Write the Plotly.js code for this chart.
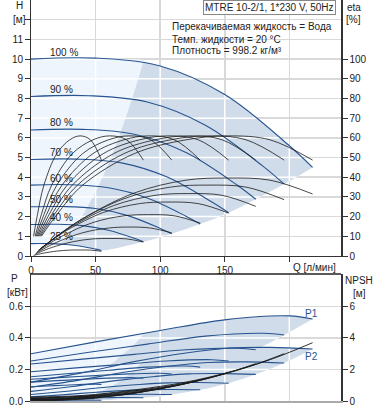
<!DOCTYPE html>
<html><head><meta charset="utf-8">
<script src="https://cdn.plot.ly/plotly-3.0.1.min.js"></script>
<style>html,body{margin:0;padding:0;background:#fff;}#chart{width:378px;height:410px;}</style>
</head><body><div id="chart"></div>
<script>
const speedLabels = ['100 %','90 %','80 %','70 %','60 %','50 %','40 %','25 %'];

// Q grid A (QH and P1 curves), per speed
const qA100=[0,50,100,150,200,218];
const qA90=[0,45,90,135,180,196];
const qA80=[0,40,80,120,160,174];
const qA70=[0,35,70,105,140,153];
const qA60=[0,30,60,90,120,131];
const qA50=[0,25,50,75,100,109];
const qA40=[0,20,40,60,80,87];
const qA25=[0,12.5,25,37.5,50,54.5];

// Head H [m]
const h100=[10,10.05,9.65,8.2,5.6,4.5];
const h90=[8.1,8.14,7.82,6.64,4.54,3.65];
const h80=[6.4,6.43,6.18,5.25,3.58,2.88];
const h70=[4.9,4.92,4.73,4.02,2.74,2.2];
const h60=[3.6,3.62,3.47,2.95,2.02,1.62];
const h50=[2.5,2.51,2.41,2.05,1.4,1.13];
const h40=[1.6,1.61,1.54,1.31,0.9,0.72];
const h25=[0.63,0.63,0.6,0.51,0.35,0.28];

// Power P1 [kW]
const p1_100=[0.30,0.375,0.447,0.515,0.54,0.52];
const p1_90=[0.254,0.309,0.361,0.412,0.43,0.419];
const p1_80=[0.235,0.266,0.296,0.325,0.335,0.325];
const p1_70=[0.186,0.21,0.232,0.254,0.262,0.254];
const p1_60=[0.154,0.175,0.195,0.215,0.222,0.215];
const p1_50=[0.138,0.15,0.161,0.172,0.176,0.171];
const p1_40=[0.12,0.129,0.137,0.145,0.148,0.144];
const p1_25=[0.09,0.095,0.1,0.105,0.107,0.105];

// Q grid B (efficiency curves)
const qB100=[8,20,40,80,120,152,185,218];
const qB90=[7.2,18,36,72,108,137,166.5,196];
const qB80=[6.4,16,32,64,96,122,148,174];
const qB70=[5.6,14,28,56,84,106,129.5,153];
const qB60=[4.8,12,24,48,72,91,111,131];
const qB50=[4,10,20,40,60,76,92.5,109];
const qB40=[3.2,8,16,32,48,61,74,87];
const qB25=[2,5,10,20,30,38,46,54.5];

// pump efficiency [%] (same reading at every speed)
const etaPump=[10,21,36,52,59,61,59,48.7];
// total efficiency [%]
const etaT100=[4,10,19,32,38.5,39.6,38.5,31.5];
const etaT90=[3.6,9.1,17.3,29.1,35,36,35,28.6];
const etaT80=[3.2,8,15.2,25.6,30.8,31.7,30.8,25.2];
const etaT70=[2.8,6.9,13.1,22.1,26.6,27.4,26.6,21.8];
const etaT60=[2.1,5.3,10.1,17,20.4,21,20.4,16.7];
const etaT50=[1.5,3.7,7,11.8,14.2,14.7,14.2,11.7];
const etaT40=[0.9,2.3,4.3,7.2,8.7,8.9,8.7,7.1];
const etaT25=[0.3,0.8,1.5,2.5,3,3.05,3,2.4];

// Q grid C (P2 and NPSH)
const qC100=[0,40,80,120,152,185,218];
const qC90=[0,36,72,108,137,166.5,196];
const qC80=[0,32,64,96,122,148,174];
const qC70=[0,28,56,84,106,129.5,153];
const qC60=[0,24,48,72,91,111,131];
const qC50=[0,20,40,60,76,92.5,109];
const qC40=[0,16,32,48,61,74,87];
const qC25=[0,10,20,30,38,46,54.5];

// Power P2 [kW]
const p2_100=[0.12,0.18,0.25,0.305,0.335,0.34,0.33];
const p2_90=[0.087,0.131,0.182,0.222,0.244,0.248,0.241];
const p2_80=[0.061,0.092,0.128,0.156,0.172,0.174,0.169];
const p2_70=[0.041,0.062,0.086,0.105,0.115,0.117,0.113];
const p2_60=[0.026,0.039,0.054,0.066,0.072,0.073,0.071];
const p2_50=[0.015,0.0225,0.031,0.038,0.042,0.0425,0.041];
const p2_40=[0.008,0.0115,0.016,0.0195,0.0214,0.0218,0.021];
const p2_25=[0.002,0.0028,0.0039,0.0048,0.0052,0.0053,0.0052];

// NPSH [m]
const npsh100=[0.25,0.35,0.7,1.2,1.8,2.62,3.7];
const npsh90=[0.2,0.28,0.57,0.97,1.46,2.12,3.0];
const npsh80=[0.16,0.22,0.45,0.77,1.15,1.68,2.37];
const npsh70=[0.12,0.17,0.34,0.59,0.88,1.28,1.81];
const npsh60=[0.09,0.13,0.25,0.43,0.65,0.94,1.33];
const npsh50=[0.06,0.09,0.18,0.3,0.45,0.66,0.93];
const npsh40=[0.04,0.056,0.11,0.19,0.29,0.42,0.59];
const npsh25=[0.016,0.022,0.044,0.075,0.11,0.16,0.23];

// light / dark area boundary (one point per speed, 25% .. 100%)
const bndQ=[21.9,35,43.7,52.4,61.2,69.9,78.7,87.4];
const bndH=[0.62,1.6,2.49,3.58,4.88,6.37,8.07,9.95];
const bndP1=[0.099,0.135,0.158,0.19,0.227,0.288,0.348,0.429];
const bndP2=[0.004,0.0166,0.0325,0.056,0.089,0.133,0.19,0.26];

// tick labels
const hTicks=[0,1,2,3,4,5,6,7,8,9,10,11,12];
const hTickText=['0','1','2','3','4','5','6','7','8','9','10','11',''];
const etaTicks=[0,10,20,30,40,50,60,70,80,90,100];
const qTicks=[0,50,100,150,200];
const qTickText=['0','50','100','150',''];
const pTicks=[0,0.2,0.4,0.6];
const pTickText=['0.0','0.2','0.4','0.6'];
const npshTicks=[0,2,4,6];

const QA=[qA100,qA90,qA80,qA70,qA60,qA50,qA40,qA25];
const HH=[h100,h90,h80,h70,h60,h50,h40,h25];
const P1=[p1_100,p1_90,p1_80,p1_70,p1_60,p1_50,p1_40,p1_25];
const QB=[qB100,qB90,qB80,qB70,qB60,qB50,qB40,qB25];
const ET=[etaT100,etaT90,etaT80,etaT70,etaT60,etaT50,etaT40,etaT25];
const QC=[qC100,qC90,qC80,qC70,qC60,qC50,qC40,qC25];
const P2=[p2_100,p2_90,p2_80,p2_70,p2_60,p2_50,p2_40,p2_25];
const NP=[npsh100,npsh90,npsh80,npsh70,npsh60,npsh50,npsh40,npsh25];

const LIGHT='#eef5fc', DARK='#d0dce9', BLUE='#27548f', BLACK='#1a1a1a';
const last=a=>a[a.length-1];

function ln(x,y,xa,ya,color,w){
  return {type:'scatter',mode:'lines',x:x,y:y,xaxis:xa,yaxis:ya,
    line:{color:color,width:w,shape:'spline',smoothing:1},hoverinfo:'skip',showlegend:false};
}
function region(lx,ly,ux,uy,xa,ya,color){
  const a=ln(lx,ly,xa,ya,'rgba(0,0,0,0)',0);
  const b=ln(ux,uy,xa,ya,'rgba(0,0,0,0)',0);
  b.fill='tonexty'; b.fillcolor=color;
  return [a,b];
}
// full area: lower = 25% curve + ends of other speeds; upper = 100% curve
function fullArea(QX,YY,xa,ya,color){
  const lx=QX[7].slice(), ly=YY[7].slice();
  for(let i=6;i>=0;i--){lx.push(last(QX[i]));ly.push(last(YY[i]));}
  return region(lx,ly,QX[0],YY[0],xa,ya,color);
}
function lightArea(QX,YY,bq,bv,xa,ya,color){
  const lx=[],ly=[];
  QX[7].forEach((q,i)=>{if(q<bq[0]){lx.push(q);ly.push(YY[7][i]);}});
  bq.forEach((q,i)=>{lx.push(q);ly.push(bv[i]);});
  const ux=[],uy=[];
  QX[0].forEach((q,i)=>{if(q<last(bq)){ux.push(q);uy.push(YY[0][i]);}});
  ux.push(last(bq));uy.push(last(bv));
  return region(lx,ly,ux,uy,xa,ya,color);
}

let traces=[];
// top subplot regions
traces=traces.concat(fullArea(QA,HH,'x','y',DARK));
traces=traces.concat(lightArea(QA,HH,bndQ,bndH,'x','y',LIGHT));
const nTopRegion=traces.length;
for(let i=0;i<8;i++) traces.push(ln(QA[i],HH[i],'x','y',BLUE,1.1));
for(let i=0;i<8;i++) traces.push(ln(QB[i],etaPump,'x','y2',BLACK,0.8));
for(let i=0;i<8;i++) traces.push(ln(QB[i],ET[i],'x','y2',BLACK,0.8));
// bottom subplot regions
let nb=0;
[fullArea(QA,P1,'x2','y3',DARK),lightArea(QA,P1,bndQ,bndP1,'x2','y3',LIGHT),
 fullArea(QC,P2,'x2','y3',DARK),lightArea(QC,P2,bndQ,bndP2,'x2','y3',LIGHT)].forEach(r=>{traces=traces.concat(r);nb+=r.length;});
const nBotRegion=nb;
for(let i=0;i<8;i++) traces.push(ln(QA[i],P1[i],'x2','y3',BLUE,1.1));
for(let i=0;i<8;i++) traces.push(ln(QC[i],P2[i],'x2','y3',BLUE,1.1));
for(let i=0;i<8;i++) traces.push(ln(QC[i],NP[i],'x2','y4',BLACK,0.9));

const px=x=>(x-31)/310, py=y=>(401-y)/401;
const FONT='Liberation Sans, Arial, sans-serif';
function txt(t,x,y,opt){
  return Object.assign({text:t,x:px(x),y:py(y),xref:'paper',yref:'paper',showarrow:false,
    xanchor:'center',yanchor:'middle',font:{size:10,color:'#222',family:FONT}},opt||{});
}
const annotations=[
  txt('H',19,6), txt('[м]',19.5,19), txt('eta',353.5,8), txt('[%]',353.5,19.5),
  txt('MTRE 10-2/1, 1*230 V, 50Hz',269.5,8,{bordercolor:'#888',borderwidth:1,borderpad:1,bgcolor:'#fff'}),
  txt('Перекачиваемая жидкость = Вода',170,26.5,{xanchor:'left'}),
  txt('Темп. жидкости = 20 °C',170,39,{xanchor:'left'}),
  txt('Плотность = 998.2 кг/м³',170,51,{xanchor:'left'}),
  txt('Q [л/мин]',314,267),
  txt('P',14,278), txt('[кВт]',17,292.5),
  txt('NPSH',359,280), txt('[м]',359,293.5),
  txt('P1',311,313,{font:{size:10,color:BLUE,family:FONT}}),
  txt('P2',311,356,{font:{size:10,color:BLUE,family:FONT}})
];
speedLabels.forEach((s,i)=>{
  annotations.push({text:s,x:13.5,y:HH[i][0],xref:'x',yref:'y',showarrow:false,xanchor:'left',
    yanchor:'middle',yshift:7,font:{size:10,color:'#222',family:FONT}});
});

const GRID='#d9d9d9';
const common={zeroline:false,ticks:'outside',ticklen:5,tickcolor:'#333',showline:true,linecolor:'#333',
  tickfont:{size:10,color:'#222',family:FONT}};
const layout={
  width:378,height:410,margin:{l:31,r:37,t:0,b:9},paper_bgcolor:'#fff',plot_bgcolor:'rgba(0,0,0,0)',
  showlegend:false,font:{family:FONT,size:10,color:'#222'},
  xaxis:Object.assign({},common,{domain:[0,1],anchor:'y',range:[0,240],tickmode:'array',tickvals:qTicks,ticktext:qTickText,
    linewidth:1.5,showgrid:true,gridcolor:GRID,gridwidth:1.5}),
  yaxis:Object.assign({},common,{domain:[0.3616,1],anchor:'x',range:[0,13],tickmode:'array',tickvals:hTicks,ticktext:hTickText,
    linewidth:1,showgrid:true,gridcolor:GRID,gridwidth:1.5}),
  yaxis2:Object.assign({},common,{overlaying:'y',side:'right',anchor:'x',range:[0,130],tickmode:'array',tickvals:etaTicks,
    linewidth:1.5,showgrid:false}),
  xaxis2:Object.assign({},common,{domain:[0,1],anchor:'y3',range:[0,240],tickmode:'array',tickvals:[50,100,150,200],
    showticklabels:false,ticks:'',linecolor:'#aaa',linewidth:1.5,showgrid:true,gridcolor:GRID,gridwidth:1.5}),
  yaxis3:Object.assign({},common,{domain:[0,0.3167],anchor:'x2',range:[0,0.806],tickmode:'array',tickvals:pTicks,ticktext:pTickText,
    linewidth:1,showgrid:true,gridcolor:GRID,gridwidth:1.5}),
  yaxis4:Object.assign({},common,{overlaying:'y3',side:'right',anchor:'x2',range:[0,8.06],tickmode:'array',tickvals:npshTicks,
    linewidth:1.5,showgrid:false}),
  shapes:[{type:'line',xref:'x2 domain',yref:'y3 domain',x0:0,x1:1,y0:1,y1:1,line:{color:'#222',width:1.5}}],
  annotations:annotations
};

function whiteGrid(gd,pid,xa,ya,xv,yv,nReg){
  try{
    const pinfo=gd._fullLayout._plots[pid];
    const plotG=pinfo.plot.node();
    const layer=plotG.querySelector('.scatterlayer');
    if(!layer) return;
    const groups=Array.from(layer.children).filter(c=>c.classList&&c.classList.contains('trace'));
    const regs=groups.slice(0,nReg);
    const fills=[];
    regs.forEach(g=>g.querySelectorAll('path').forEach(p=>{
      const d=p.getAttribute('d');const f=p.style.fill;
      if(d&&d.length>3&&f&&f!=='none') fills.push(d);
    }));
    if(!fills.length) return;
    const ns='http://www.w3.org/2000/svg';
    const svg=gd.querySelector('svg.main-svg');
    let defs=svg.querySelector('defs');
    if(!defs){defs=document.createElementNS(ns,'defs');svg.insertBefore(defs,svg.firstChild);}
    const cp=document.createElementNS(ns,'clipPath');cp.setAttribute('id','wg'+pid);
    fills.forEach(d=>{const c=document.createElementNS(ns,'path');c.setAttribute('d',d);cp.appendChild(c);});
    defs.appendChild(cp);
    const g=document.createElementNS(ns,'g');g.setAttribute('clip-path','url(#wg'+pid+')');
    let d='';
    const W=xa._length,H=ya._length;
    xv.forEach(v=>{const x=xa.l2p(v);d+='M'+x+',0V'+H;});
    yv.forEach(v=>{const y=ya.l2p(v);d+='M0,'+y+'H'+W;});
    const p=document.createElementNS(ns,'path');p.setAttribute('d',d);
    p.setAttribute('style','stroke:#fff;stroke-width:1.5;fill:none');
    g.appendChild(p);
    const after=regs[regs.length-1];
    layer.insertBefore(g,after.nextSibling);
  }catch(e){console.log(e);}
}

Plotly.newPlot('chart',traces,layout,{staticPlot:true,displayModeBar:false}).then(gd=>{
  const fl=gd._fullLayout;
  whiteGrid(gd,'xy',fl.xaxis,fl.yaxis,[50,100,150,200],hTicks.slice(1),nTopRegion);
  whiteGrid(gd,'x2y3',fl.xaxis2,fl.yaxis3,[50,100,150,200],[0.2,0.4,0.6],nBotRegion);
});
</script></body></html>
